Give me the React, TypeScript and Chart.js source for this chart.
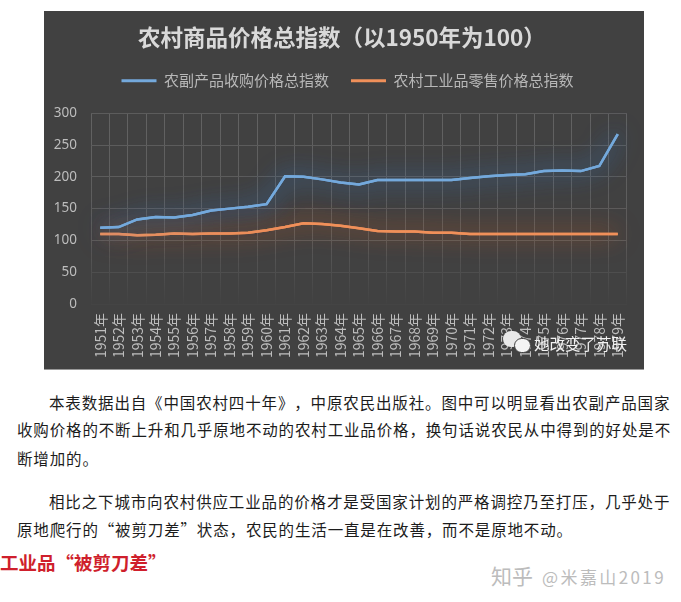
import React, { useEffect, useRef } from "react";
import { Chart, registerables } from "chart.js";

Chart.register(...registerables);

const cjk = '"Noto Sans CJK SC", sans-serif';

const years = [
    "1951年", "1952年", "1953年", "1954年", "1955年", "1956年", "1957年", "1958年",
    "1959年", "1960年", "1961年", "1962年", "1963年", "1964年", "1965年", "1966年",
    "1967年", "1968年", "1969年", "1970年", "1971年", "1972年", "1973年", "1974年",
    "1975年", "1976年", "1977年", "1978年", "1979年",
];
const farmProducts = [
    120, 121, 133, 137, 136, 140, 147, 150, 153, 157, 201, 200, 196, 191, 188, 195,
    195, 195, 195, 195, 198, 201, 203, 204, 209, 210, 209, 217, 267,
];
const industrialGoods = [
    110, 110, 108, 109, 111, 110, 111, 111, 112, 116, 121, 127, 126, 123, 119, 115,
    114, 114, 112, 112, 110, 110, 110, 110, 110, 110, 110, 110, 110,
];
const bodyLines = [
    { x: 49, y: 402, text: "本表数据出自《中国农村四十年》，中原农民出版社。图中可以明显看出农副产品国家" },
    { x: 17, y: 429, text: "收购价格的不断上升和几乎原地不动的农村工业品价格，换句话说农民从中得到的好处是不" },
    { x: 17, y: 458, text: "断增加的。" },
    { x: 49, y: 501, text: "相比之下城市向农村供应工业品的价格才是受国家计划的严格调控乃至打压，几乎处于" },
    { x: 17, y: 529, text: "原地爬行的“被剪刀差”状态，农民的生活一直是在改善，而不是原地不动。" },
];

const glowPlugin = {
    id: "lineGlow",
    afterLayout(chart: any) {
        // y labels hang into the left padding, so widen the box they get clipped to
        chart.scales.y.left = 0;
    },
    beforeDatasetDraw(chart: any, args: any) {
        const ctx = chart.ctx;
        ctx.save();
        ctx.shadowColor = args.index === 0 ? "rgba(60,135,225,0.7)" : "rgba(225,100,35,0.7)";
        ctx.shadowBlur = 24;
        // extra pass so the blur of a thin line is strong enough to see
        args.meta.dataset.draw(ctx, chart.chartArea);
    },
    afterDatasetDraw(chart: any) {
        chart.ctx.restore();
    },
};

// grid fades out towards the zero line
const verticalGrid = (c: any) => {
    const area = c.chart.chartArea;
    if (!area) return "#5c5c5c";
    const g = c.chart.ctx.createLinearGradient(0, area.top, 0, area.bottom);
    g.addColorStop(0, "#626262");
    g.addColorStop(0.65, "#5c5c5c");
    g.addColorStop(1, "#424242");
    return g;
};
const horizontalGrid = (c: any) => {
    const v = c.tick ? c.tick.value : 300;
    if (v === 0) return "#444444";
    if (v === 50) return "#4e4e4e";
    return "#5c5c5c";
};

export default function App() {
    const ref = useRef<HTMLCanvasElement | null>(null);

    useEffect(() => {
        if (!ref.current) return;

        const chart = new Chart(ref.current, {
            type: "line",
            data: {
                labels: years,
                datasets: [
                    {
                        label: "农副产品收购价格总指数",
                        data: farmProducts,
                        borderColor: "#74a9dc",
                        backgroundColor: "#74a9dc",
                        borderWidth: 2.5,
                        pointRadius: 0,
                    },
                    {
                        label: "农村工业品零售价格总指数",
                        data: industrialGoods,
                        borderColor: "#f0905a",
                        backgroundColor: "#f0905a",
                        borderWidth: 2.5,
                        pointRadius: 0,
                    },
                ],
            },
            options: {
                responsive: false,
                animation: false,
                // left padding pushes the centred title and legend right
                layout: { padding: { left: 24, right: 17, bottom: 0 } },
                plugins: {
                    tooltip: { enabled: false },
                    title: {
                        display: true,
                        text: "农村商品价格总指数（以1950年为100）\u3000",
                        color: "#d9d9d9",
                        font: { family: cjk, size: 22.5, weight: "bold", lineHeight: 1 },
                        padding: { top: 14.75, bottom: 3 },
                    },
                    // empty subtitle only holds the gap between the legend and the plot
                    subtitle: {
                        display: true,
                        text: " ",
                        weight: 1500,
                        font: { size: 1, lineHeight: 1 },
                        padding: { top: 0, bottom: 14 },
                    },
                    legend: {
                        weight: 1800,
                        labels: {
                            color: "#b8b8b8",
                            font: { family: cjk, size: 15, lineHeight: 1.4 },
                            boxWidth: 35,
                            boxHeight: 3,
                            padding: 22,
                            generateLabels: (c: any) =>
                                Chart.defaults.plugins.legend.labels
                                    .generateLabels(c)
                                    .map((l: any) => ({ ...l, lineWidth: 0 })),
                        },
                    },
                },
                scales: {
                    x: {
                        offset: true,
                        afterFit: (s: any) => {
                            s.height = 65;
                        },
                        grid: { color: verticalGrid, offset: true, drawTicks: false },
                        border: { display: false },
                        ticks: {
                            color: "#bdbdbd",
                            font: { family: cjk, size: 14 },
                            maxRotation: 90,
                            minRotation: 90,
                            autoSkip: false,
                            padding: 9,
                        },
                    },
                    y: {
                        min: 0,
                        max: 300,
                        afterFit: (s: any) => {
                            s.width = 23;
                        },
                        grid: { color: horizontalGrid, drawTicks: false },
                        border: { display: false },
                        ticks: {
                            stepSize: 50,
                            color: "#bdbdbd",
                            font: { family: "'Noto Sans', sans-serif", size: 13.5 },
                            padding: 14,
                        },
                    },
                },
            },
            plugins: [glowPlugin],
        } as any);

        return () => chart.destroy();
    }, []);

    return (
        <div
            style={{
                position: "absolute",
                left: 0,
                top: 0,
                width: 681,
                height: 602,
                overflow: "hidden",
                background: "#fff",
                fontFamily: cjk,
            }}
        >
            <div
                style={{
                    position: "absolute",
                    left: 44,
                    top: 11,
                    width: 600,
                    height: 358,
                    background: "#414141",
                    borderBottom: "1px solid #999",
                }}
            />
            <canvas
                ref={ref}
                width={600}
                height={358}
                style={{ position: "absolute", left: 44, top: 11, width: 600, height: 358, filter: "blur(0.4px)" }}
            />
            {/* watermark over the chart */}
            <div style={{ position: "absolute", left: 503, top: 331, width: 18, height: 16, borderRadius: 8, background: "#e8e8e8" }} />
            <div style={{ position: "absolute", left: 514, top: 338, width: 15, height: 13, borderRadius: 8, background: "#f4f4f4", border: "1px solid #414141" }} />
            <div style={{ position: "absolute", left: 534, top: 332, color: "#f2f2f2", fontSize: 15.5, lineHeight: "22px", whiteSpace: "nowrap" }}>
                她改变了苏联
            </div>
            {bodyLines.map((l) => (
                <div
                    key={l.y}
                    style={{
                        position: "absolute",
                        left: l.x,
                        top: l.y - 12,
                        fontSize: 15.5,
                        lineHeight: "24px",
                        letterSpacing: 0.85,
                        color: "#1c1c1c",
                        whiteSpace: "nowrap",
                        textSpacingTrim: "space-all",
                    } as any}
                >
                    {l.text}
                </div>
            ))}
            <div
                style={{
                    position: "absolute",
                    left: 0,
                    top: 550,
                    color: "#cf1f2c",
                    fontSize: 18.5,
                    fontWeight: 700,
                    lineHeight: "24px",
                    whiteSpace: "nowrap",
                    textSpacingTrim: "space-all",
                } as any}
            >
                工业品“被剪刀差”
            </div>
            <div style={{ position: "absolute", left: 491, top: 561, color: "#bcbcbc", lineHeight: "28px", whiteSpace: "nowrap" }}>
                <span style={{ fontSize: 21 }}>知乎</span>
                <span style={{ fontSize: 17, letterSpacing: 2.4, marginLeft: 9 }}>@米嘉山2019</span>
            </div>
        </div>
    );
}
